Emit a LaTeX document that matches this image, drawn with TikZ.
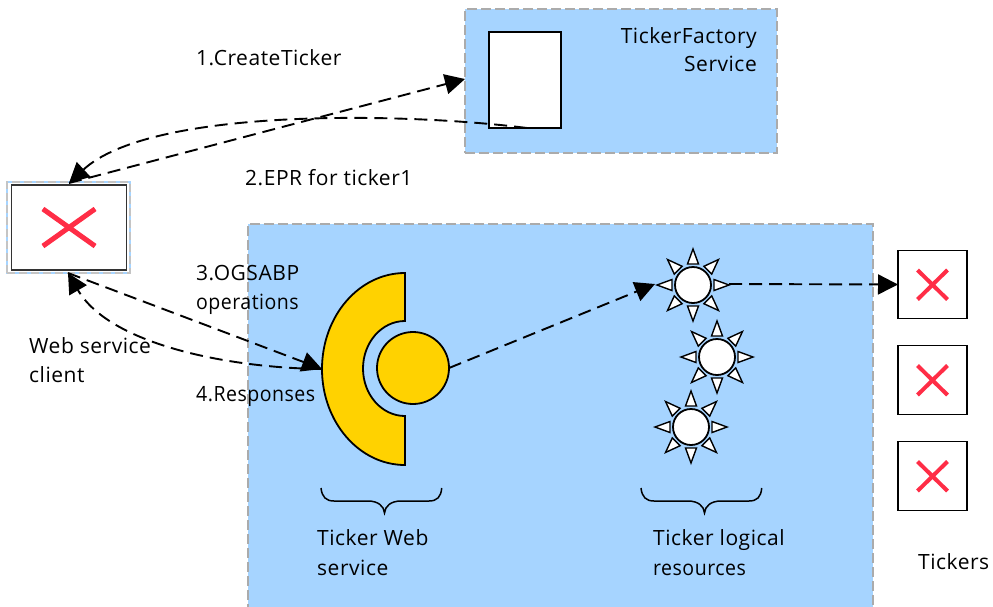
\documentclass[tikz,border=0pt]{standalone}
\usepackage{fontspec}
\setmainfont[LetterSpace=2.5]{Open Sans}
\usetikzlibrary{arrows.meta}
\definecolor{panelblue}{HTML}{A6D4FF}
\definecolor{panelgrey}{HTML}{ABABAB}
\definecolor{crossred}{HTML}{FF2D46}
\definecolor{cgold}{HTML}{FFD200}
\tikzset{
  panel/.style={fill=panelblue,draw=panelgrey,line width=2pt,dash pattern=on 10pt off 4pt},
  plainbox/.style={draw=black,fill=white,line width=1.4pt,inner sep=0pt,outer sep=0pt},
  crossline/.style={draw=crossred,line width=4pt},
  flow/.style={draw=black,line width=1.9pt,dash pattern=on 13pt off 7pt,-{Triangle[length=20pt,width=20pt]}},
  gold/.style={fill=cgold,draw=black,line width=1.8pt},
  lbl/.style={anchor=base west,inner sep=0pt,font=\fontsize{21}{24}\selectfont},
  narrowlbl/.style={lbl,xscale=0.93},
  bracecurve/.style={draw=black,line width=1.5pt},
  ray/.style={fill=white,draw=black,line width=1.4pt,line join=miter},
  sunbody/.style={circle,fill=white,draw=black,line width=1.8pt,minimum size=36pt,inner sep=0pt,outer sep=0pt}
}
\newcommand{\sunrays}[1]{%
  \foreach \a in {0,45,...,315}{
    \draw[ray,shift={(#1)},rotate=\a] (21,-5.5) -- (36,0) -- (21,5.5) -- cycle;
  }%
}
\newcommand{\redcross}[4]{%
  \draw[crossline] (#1,#2) -- (#3,#4);
  \draw[crossline] (#1,#4) -- (#3,#2);
}
\newcommand{\curlybrace}[1]{%
  \draw[bracecurve,shift={(#1,0)}] (321,488) .. controls (322,497) and (326,501) .. (334,501)
    -- (368,501) .. controls (378,501) and (384,506) .. (384.5,513)
    .. controls (385,506) and (391,501) .. (401,501)
    -- (429,501) .. controls (437,501) and (441,497) .. (441.7,488);
}
\begin{document}
\begin{tikzpicture}[x=1pt,y=-1pt]
\useasboundingbox (0,0) rectangle (993,606);
\clip (0,0) rectangle (993,606);
% panels
\node[panel,inner sep=0pt,outer sep=0pt,minimum width=312pt,minimum height=144pt] (factory) at (621,81) {};
\node[panel,inner sep=0pt,outer sep=0pt,minimum width=625pt,minimum height=400pt] (host) at (560.5,424) {};
% client
\node[draw=panelblue,fill=white,line width=1.2pt,inner sep=0pt,outer sep=0pt,minimum width=123pt,minimum height=91pt] (clientouter) at (68.5,227.5) {};
\node[draw=panelgrey!70,line width=1.6pt,dash pattern=on 8pt off 4pt,inner sep=0pt,outer sep=0pt,minimum width=123pt,minimum height=91pt] (clientdash) at (68.5,227.5) {};
\node[plainbox,draw=black!80,minimum width=115pt,minimum height=85pt] (client) at (69,227.5) {};
\redcross{43}{209}{95}{246}
\draw[crossline,line width=5pt] (43,209) -- (95,246) (43,246) -- (95,209);
% factory document
\node[plainbox,line width=1.6pt,minimum width=72pt,minimum height=96pt] (doc) at (525,80) {};
% gold C and circle
\path[gold] (405,273) arc[start angle=270,end angle=90,x radius=83,y radius=96]
  -- (405,416) arc[start angle=90,end angle=270,x radius=42,y radius=47.5] -- cycle;
\coordinate (cleft) at (322,369);
\node[circle,gold,minimum size=72pt,inner sep=0pt,outer sep=0pt] (port) at (413,368) {};
% suns
\sunrays{693,285}
\node[sunbody] (sunA) at (693,285) {};
\sunrays{717,357}
\node[sunbody] (sunB) at (717,357) {};
\sunrays{691,427}
\node[sunbody] (sunC) at (691,427) {};
\coordinate (sunAright) at (729,284);
\coordinate (sunAleft) at (655,284);
% tickers
\node[plainbox,minimum width=69pt,minimum height=68.5pt] (t1) at (932.5,284.5) {};
\node[plainbox,minimum width=69pt,minimum height=68.5pt] (t2) at (932.5,380) {};
\node[plainbox,minimum width=69pt,minimum height=68.5pt] (t3) at (932.5,476) {};
\redcross{917.5}{270}{947.5}{299.5}
\redcross{917.5}{365.5}{947.5}{395}
\redcross{917.5}{461.5}{947.5}{491}
% connectors
\coordinate (docout) at (527,128);
\coordinate (clientin) at (69,183);
\coordinate (clientlow) at (68,273);
\coordinate (factoryin) at (465,79);
\draw[flow] (clientin) -- (factoryin);
\draw[flow] (docout) .. controls (400,112) and (150,108) .. (clientin);
\draw[flow] (clientlow) -- (cleft);
\draw[flow] (cleft) .. controls (230,368) and (110,345) .. (clientlow);
\draw[flow] (port.east) -- (sunAleft);
\draw[flow] (sunAright) -- (t1.west);
% braces
\curlybrace{0}
\curlybrace{320}
% labels
\node[lbl] (l1) at (196,65) {1.CreateTicker};
\node[lbl] (l2) at (245,185) {2.EPR for ticker1};
\node[lbl] (l3a) at (196,280) {3.OGSABP};
\node[narrowlbl] (l3b) at (196,309) {operations};
\node[narrowlbl] (l4) at (196,401) {4.Responses};
\node[lbl] (lc1) at (29,353) {Web service};
\node[lbl] (lc2) at (29,382) {client};
\node[lbl,anchor=base east] (lf1) at (757,43) {TickerFactory};
\node[lbl,anchor=base east] (lf2) at (757,71) {Service};
\node[lbl] (ls1) at (317,545) {Ticker Web};
\node[lbl] (ls2) at (317,575) {service};
\node[lbl] (lr1) at (653,545) {Ticker logical};
\node[narrowlbl] (lr2) at (653,575) {resources};
\node[lbl] (lt) at (918,569) {Tickers};
\end{tikzpicture}
\end{document}
